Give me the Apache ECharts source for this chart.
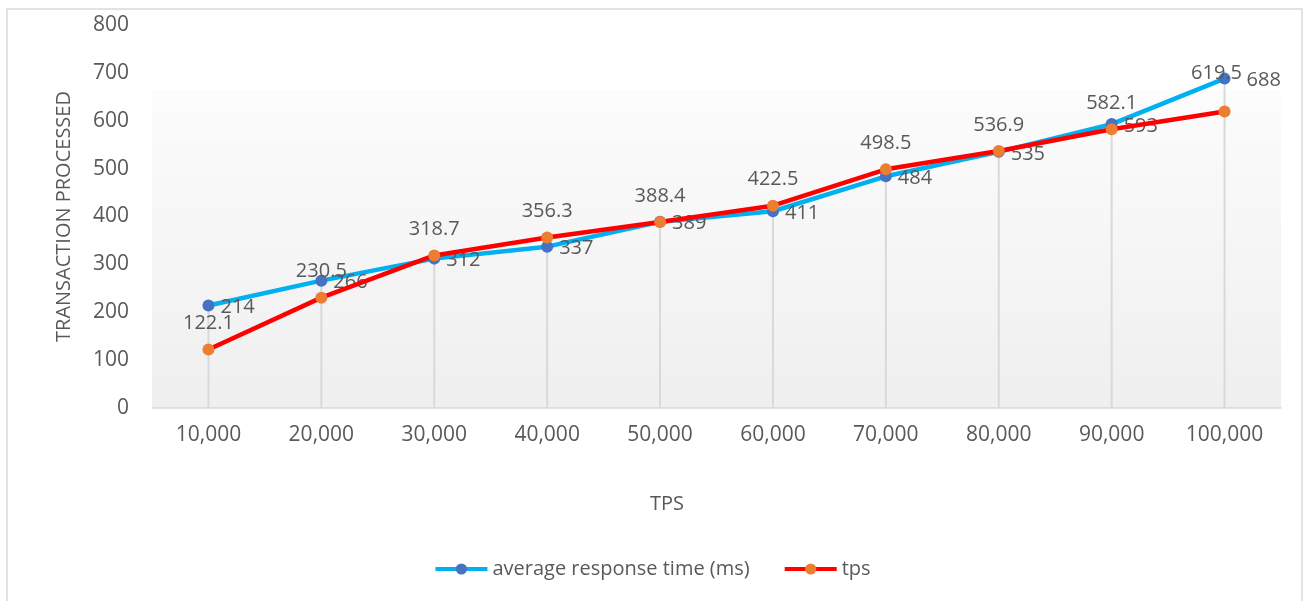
<!DOCTYPE html>
<html>
<head>
<meta charset="utf-8">
<style>
  html, body { margin: 0; padding: 0; background: #ffffff; }
  #chart { width: 1304px; height: 601px; }
</style>
<script src="https://cdn.jsdelivr.net/npm/echarts@6/dist/echarts.min.js"></script>
</head>
<body>
<div id="chart"></div>
<script>
// Load test: transactions processed at each TPS step
const categories = ['10,000', '20,000', '30,000', '40,000', '50,000', '60,000', '70,000', '80,000', '90,000', '100,000'];
const avgResponseTime = [214, 266, 312, 337, 389, 411, 484, 535, 593, 688];
const tps = [122.1, 230.5, 318.7, 356.3, 388.4, 422.5, 498.5, 536.9, 582.1, 619.5];
const yTicks = { min: 0, max: 800, interval: 100 };

const FONT = 'Open Sans';
const TEXT = '#595959';

// drop lines reach from the higher of the two points down to the axis
const dropLines = categories.map((_, i) => Math.max(avgResponseTime[i], tps[i]));
const last = categories.length - 1;

const chart = echarts.init(document.getElementById('chart'));

chart.setOption({
  animation: false,
  textStyle: { fontFamily: FONT, color: TEXT },
  grid: {
    left: 152, right: 23, top: 25, bottom: 193,
    show: true,
    borderWidth: 0,
    backgroundColor: {
      type: 'linear', x: 0, y: 0, x2: 0, y2: 1,
      colorStops: [
        { offset: 0, color: '#ffffff' },
        { offset: 0.169, color: '#ffffff' },
        { offset: 0.17, color: '#fcfcfc' },
        { offset: 1, color: '#efefef' }
      ]
    }
  },
  graphic: [
    {
      type: 'rect', silent: true, z: -10,
      shape: { x: 7, y: 9, width: 1295, height: 600 },
      style: { fill: 'none', stroke: '#d9d9d9', lineWidth: 1.5 }
    },
    {
      type: 'text', left: 650, top: 494,
      style: { text: 'TPS', font: '20px "Open Sans"', fill: TEXT }
    }
  ],
  legend: {
    data: [
      { name: 'average response time (ms)', itemStyle: { color: '#4472c4' }, lineStyle: { color: '#00b0f0', width: 4 } },
      { name: 'tps', itemStyle: { color: '#ed7d31' }, lineStyle: { color: '#ff0000', width: 4 } }
    ],
    bottom: 17,
    left: 'center',
    itemWidth: 52,
    itemHeight: 14,
    itemGap: 33,
    textStyle: { fontFamily: FONT, fontSize: 20, color: TEXT }
  },
  xAxis: {
    type: 'category',
    data: categories,
    boundaryGap: true,
    axisLine: { show: true, lineStyle: { color: '#d9d9d9', width: 1.5 } },
    axisTick: { show: false },
    splitLine: { show: false },
    axisLabel: { fontFamily: FONT, fontSize: 21, color: TEXT, margin: 17 }
  },
  yAxis: {
    type: 'value',
    min: yTicks.min, max: yTicks.max, interval: yTicks.interval,
    name: 'TRANSACTION PROCESSED',
    nameLocation: 'middle',
    nameGap: 78,
    nameRotate: 90,
    nameTextStyle: { fontFamily: FONT, fontSize: 20, color: TEXT },
    axisLine: { show: false },
    axisTick: { show: false },
    splitLine: { show: false },
    axisLabel: { fontFamily: FONT, fontSize: 21, color: TEXT, margin: 23 }
  },
  series: [
    {
      name: 'drop',
      type: 'bar',
      data: dropLines,
      barWidth: 2,
      silent: true,
      z: 1,
      itemStyle: { color: '#d9d9d9' },
      legendHoverLink: false
    },
    {
      name: 'average response time (ms)',
      type: 'line',
      data: avgResponseTime.map((v, i) => i === last
        ? { value: v, label: { offset: [10, 2] } }
        : v),
      z: 3,
      symbol: 'circle',
      symbolSize: 12,
      lineStyle: { color: '#00b0f0', width: 4.5 },
      itemStyle: { color: '#4472c4' },
      label: {
        show: true, position: 'right', distance: 6,
        fontFamily: FONT, fontSize: 20, color: TEXT,
        offset: [0, 2]
      }
    },
    {
      name: 'tps',
      type: 'line',
      z: 4,
      data: tps.map((v, i) => i === last
        ? { value: v, label: { offset: [-8, -12] } }
        : v),
      symbol: 'circle',
      symbolSize: 12,
      lineStyle: { color: '#ff0000', width: 4.5 },
      itemStyle: { color: '#ed7d31' },
      label: {
        show: true, position: 'top', distance: 10,
        fontFamily: FONT, fontSize: 20, color: TEXT
      }
    }
  ]
});
</script>
</body>
</html>
